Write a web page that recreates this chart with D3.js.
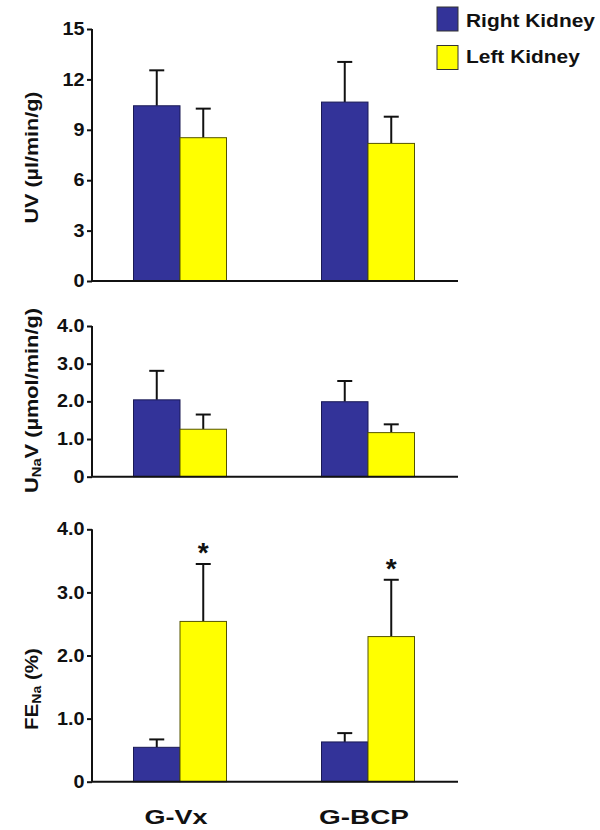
<!DOCTYPE html>
<html><head><meta charset="utf-8">
<script src="https://cdn.jsdelivr.net/npm/d3@7"></script>
<style>body{margin:0;background:#fff}svg{display:block;font-family:"Liberation Sans",Arial,sans-serif;font-weight:bold}</style>
</head><body><svg id="c" width="600" height="830"></svg>
<script>
const groups = ["G-Vx", "G-BCP"];
const series = ["Right Kidney", "Left Kidney"];
const colors = ["#333399", "#FFFF00"];
// panel 1: UV
const uvMean = [[10.43, 8.53], [10.65, 8.19]];
const uvSE   = [[2.11, 1.73], [2.39, 1.59]];
const uvTicks = [0, 3, 6, 9, 12, 15];
const uvTickLabels = ["0", "3", "6", "9", "12", "15"];
// panel 2: UNaV
const unaMean = [[2.04, 1.26], [1.99, 1.17]];
const unaSE   = [[0.77, 0.39], [0.55, 0.22]];
const unaTicks = [0, 1, 2, 3, 4];
const unaTickLabels = ["0", "1.0", "2.0", "3.0", "4.0"];
// panel 3: FENa
const feMean = [[0.545, 2.54], [0.63, 2.30]];
const feSE   = [[0.125, 0.91], [0.14, 0.90]];
const feSig  = [[false, true], [false, true]];
const feTicks = [0, 1, 2, 3, 4];
const feTickLabels = ["0", "1.0", "2.0", "3.0", "4.0"];

const svg = d3.select("#c");
const x = d3.scaleBand().domain(groups).range([86, 462]).padding(0);
const barW = 46.5;
const axisL = 92, axisR = 458;
const FONT = '"Liberation Sans",Arial,sans-serif';

function stretch(sel, f) {
  sel.each(function () {
    const w = this.getComputedTextLength();
    d3.select(this).attr("textLength", w * f).attr("lengthAdjust", "spacingAndGlyphs");
  });
}

function panel(cfg) {
  const y = d3.scaleLinear().domain([0, cfg.max]).range([cfg.y0, cfg.y1]);
  const g = svg.append("g");
  const ax = d3.axisLeft(y).tickValues(cfg.ticks).tickSize(5).tickPadding(2.5)
    .tickFormat((d, i) => cfg.labels[i]);
  const ag = g.append("g").attr("transform", `translate(${axisL},0)`).call(ax);
  ag.select(".domain").remove();
  ag.selectAll(".tick line").attr("stroke", "#111").attr("stroke-width", 2);
  const tt = ag.selectAll(".tick text").attr("font-size", 17.5).attr("font-weight", "bold")
    .attr("font-family", FONT).attr("fill", "#111");
  stretch(tt, 1.13);
  g.append("line").attr("x1", axisL).attr("x2", axisL).attr("y1", y(cfg.max)).attr("y2", y(0))
    .attr("stroke", "#111").attr("stroke-width", 2);
  groups.forEach((grp, gi) => {
    const cx = x(grp) + x.bandwidth() / 2;
    const xs = d3.scaleBand().domain(series).range([cx - barW, cx + barW]);
    series.forEach((s, si) => {
      const m = cfg.mean[gi][si], se = cfg.se[gi][si];
      const bx = xs(s), bw = xs.bandwidth();
      const ex = bx + bw / 2;
      g.append("line").attr("x1", ex).attr("x2", ex).attr("y1", y(m)).attr("y2", y(m + se))
        .attr("stroke", "#111").attr("stroke-width", 2);
      g.append("line").attr("x1", ex - 7.5).attr("x2", ex + 7.5).attr("y1", y(m + se)).attr("y2", y(m + se))
        .attr("stroke", "#111").attr("stroke-width", 2);
      g.append("rect").attr("x", bx).attr("width", bw).attr("y", y(m)).attr("height", y(0) - y(m))
        .attr("fill", colors[si]).attr("stroke", si === 0 ? "#1a1a55" : "#555500").attr("stroke-width", 1);
      if (cfg.sig && cfg.sig[gi][si]) {
        g.append("text").attr("x", ex).attr("y", y(m + se) - 2).attr("text-anchor", "middle")
          .attr("font-size", 28).attr("fill", "#111").text("*");
      }
    });
  });
  g.append("line").attr("x1", axisL).attr("x2", axisR).attr("y1", y(0)).attr("y2", y(0))
    .attr("stroke", "#111").attr("stroke-width", 2);
  const lab = g.append("text").attr("transform", `translate(${cfg.labX},${cfg.labY}) rotate(-90)`)
    .attr("text-anchor", "middle").attr("font-size", 18.5).attr("fill", "#111")
    .attr("textLength", cfg.labLen).attr("lengthAdjust", "spacingAndGlyphs");
  cfg.label(lab);
  return y;
}

panel({ max: 15, y0: 281, y1: 29, ticks: uvTicks, labels: uvTickLabels, mean: uvMean, se: uvSE,
  labX: 37.5, labY: 157.5, labLen: 132, label: t => t.text("UV (µl/min/g)") });
panel({ max: 4, y0: 476.7, y1: 326, ticks: unaTicks, labels: unaTickLabels, mean: unaMean, se: unaSE,
  labX: 37.5, labY: 400.5, labLen: 185, label: t => { t.append("tspan").text("U");
    t.append("tspan").attr("font-size", 12.5).attr("dy", 3).text("Na");
    t.append("tspan").attr("dy", -3).text("V (µmol/min/g)"); } });
panel({ max: 4, y0: 781.7, y1: 529.3, ticks: feTicks, labels: feTickLabels, mean: feMean, se: feSE, sig: feSig,
  labX: 37.5, labY: 689, labLen: 82, label: t => { t.append("tspan").text("FE");
    t.append("tspan").attr("font-size", 12.5).attr("dy", 3).text("Na");
    t.append("tspan").attr("dy", -3).text(" (%)"); } });

// x labels
const xlLen = [63, 90];
svg.selectAll(".xl").data(groups).enter().append("text")
  .attr("x", d => x(d) + x.bandwidth() / 2 - 4).attr("y", 823.5).attr("text-anchor", "middle")
  .attr("font-size", 21).attr("fill", "#111")
  .attr("textLength", (d, i) => xlLen[i]).attr("lengthAdjust", "spacingAndGlyphs").text(d => d);

// legend
const lg = svg.append("g");
series.forEach((s, i) => {
  lg.append("rect").attr("x", 437).attr("y", 7 + i * 38.5).attr("width", 21).attr("height", 24)
    .attr("fill", colors[i]).attr("stroke", "#333").attr("stroke-width", 1);
  const t = lg.append("text").attr("x", 466).attr("y", 26.7 + i * 36.6).attr("font-size", 18.5)
    .attr("fill", "#111").text(s);
  stretch(t, 1.13);
});
</script></body></html>
